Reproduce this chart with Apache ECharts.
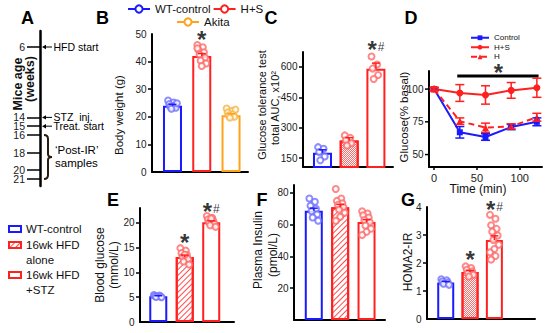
<!DOCTYPE html>
<html>
<head>
  <meta charset="utf-8">
  <title>HFD / STZ mouse model</title>
  <script src="https://cdn.jsdelivr.net/npm/echarts@6.0.0/dist/echarts.min.js"></script>
  <style>
    html, body { margin: 0; padding: 0; background: #fff; }
    #chart { width: 550px; height: 333px; }
  </style>
</head>
<body>
<div id="chart"></div>
<script>
  // ---- data ----
  // A: timeline (weeks of age)
  var weekTicks = [6, 14, 15, 16, 18, 20, 21];
  var eventWeeks = [6, 14, 15];
  var eventNames = ['HFD start', 'STZ  inj.', 'Treat. start'];
  var sampleWeeks = [16, 21];

  // B: body weight (g)
  var bwTicks = [0, 10, 20, 30, 40, 50];
  var bwMean = [24.0, 42.0, 20.6];
  var bwSem = [0.5, 0.9, 0.5];
  var bwPts = [
    [25.9, 25.2, 24.6, 24.1, 23.7, 23.3, 22.9, 24.9],
    [46.0, 45.2, 44.3, 43.4, 42.6, 41.5, 40.4, 39.3, 38.4, 44.8],
    [23.0, 22.2, 21.6, 21.0, 20.5, 20.0, 19.7, 22.6]
  ];
  var bwSig = [[1, 48.0, '*']];

  // C: GTT total AUC (x10^2)
  var aucTicks = [150, 300, 450, 600];
  var aucMean = [176, 237, 591];
  var aucSem = [15, 14, 28];
  var aucPts = [[204, 196, 180, 158, 139], [262, 250, 238, 224, 212], [652, 612, 592, 560, 541]];
  var aucSig = [[2, 684, '*#']];

  // D: glucose (% basal) vs time
  var gluTicks = [50, 75, 100];
  var timeTicks = [0, 50, 100];
  var timeMin = [0, 30, 60, 90, 120];
  var gluCtrl = [100, 67, 63.4, 71, 75];
  var gluCtrlSem = [1, 4.4, 2.5, 2, 3];
  var gluHS = [100, 97, 95.5, 99, 101];
  var gluHSSem = [1.5, 6.4, 7, 6, 7.3];
  var gluH = [100, 75.5, 70.5, 71.5, 78.5];
  var gluHSem = [1, 2.5, 3.5, 2, 3];
  var sigSpan = [27, 122];
  var sigLevel = 110;
  var gluSig = [[75, 112.5, '*']];

  // E: blood glucose (mmol/L)
  var bgTicks = [0, 5, 10, 15, 20];
  var bgMean = [5.2, 13.1, 20.1];
  var bgSem = [0.1, 0.4, 0.3];
  var bgPts = [
    [5.45, 5.35, 5.25, 5.15, 5.05, 5.0],
    [14.9, 14.4, 13.9, 13.5, 13.1, 12.7, 12.2, 11.6, 13.6],
    [21.4, 21.0, 20.7, 20.4, 20.1, 19.8, 19.5, 19.2, 20.9]
  ];
  var bgSig = [[1, 16.0, '*'], [2, 22.2, '*#']];
  var groupNames = ['WT-control ', '16wk HFD\nalone', '16wk HFD\n+STZ'];

  // F: plasma insulin (pmol/L)
  var insTicks = [20, 40, 60, 80];
  var insMean = [68.8, 71.0, 61.7];
  var insSem = [1.6, 1.8, 1.5];
  var insPts = [
    [76.5, 74.5, 72, 70, 68.5, 66.5, 64.5, 62.5],
    [82.5, 76.5, 75, 73.5, 72.5, 71, 69.5, 67.5, 65, 62.5],
    [68.5, 67, 66, 64.5, 63, 61.5, 59.5, 57.5, 55.5, 53.5]
  ];

  // G: HOMA2-IR
  var homaTicks = [0, 1, 2, 3, 4];
  var homaMean = [1.30, 1.68, 2.82];
  var homaSem = [0.04, 0.05, 0.15];
  var homaPts = [
    [1.42, 1.38, 1.34, 1.30, 1.26, 1.22],
    [1.88, 1.82, 1.76, 1.70, 1.64, 1.58, 1.52],
    [3.72, 3.58, 3.35, 3.22, 3.12, 2.98, 2.82, 2.65, 2.50, 2.38, 2.25, 2.12]
  ];
  var homaSig = [[1, 2.12, '*'], [2, 3.9, '*#']];

  // ---- styles ----
  var FONT = '"Liberation Sans", Arial, sans-serif';
  var BLUE = '#1a1aff', RED = '#ff2020', ORANGE = '#ffa31a';
  var BLUE_PT = '#7070ff', RED_PT = '#ff6a6a', ORANGE_PT = '#f5b648';

  function open(c) { return {color: '#fff', borderColor: c, borderWidth: 2}; }
  var hatch = {color: '#fff', borderColor: RED, borderWidth: 2,
    decal: {symbol: 'rect', symbolSize: 1, dashArrayX: [1, 0], dashArrayY: [1, 3], rotation: -Math.PI / 4, color: '#ff4a4a'}};
  var dotted = {color: '#fff', borderColor: RED, borderWidth: 2,
    decal: {symbol: 'rect', symbolSize: 1, dashArrayX: [[1, 1], [0, 1, 1, 0]], dashArrayY: [1, 0], color: '#ff6a6a'}};

  // min/max of the axis get an empty label so the edge-label hiding never touches the real ones
  function valAxis(gi, min, max, ticks, o) {
    o = o || {};
    var tickLen = o.tickLen || 4;
    var labelVals = ticks ? [min].concat(ticks, [max]) : undefined;
    return {
      type: 'value', gridIndex: gi, min: min, max: max, show: o.show !== false,
      inverse: !!o.inverse,
      axisLine: {show: true, onZero: false, lineStyle: {color: '#000', width: o.lineWidth || 2}},
      axisTick: {show: !!ticks, customValues: ticks || undefined, length: tickLen,
        lineStyle: {color: '#000', width: 1.5}},
      axisLabel: {show: !!ticks, customValues: labelVals, fontSize: o.fontSize || 10,
        hideOverlap: false,
        formatter: function (v) { return ticks && ticks.indexOf(v) >= 0 ? String(v) : ''; },
        margin: tickLen + (o.margin == null ? 1.5 : o.margin), color: '#1a1a1a', fontFamily: FONT},
      splitLine: {show: false}
    };
  }

  function jitter(k) { return ((k * 5) % 9 - 4) * 1.1; }

  function errBars(gi, rows, colors, capW, twoSided) {
    return {
      type: 'custom', xAxisIndex: gi, yAxisIndex: gi, silent: true, z: 4, clip: false,
      data: rows,
      renderItem: function (params, api) {
        var x = api.value(0), m = api.value(1), e = api.value(2);
        var hi = api.coord([x, m + e]);
        var lo = api.coord([x, twoSided ? m - e : m]);
        var st = {stroke: colors[params.dataIndex % colors.length], lineWidth: 1.5, fill: null};
        var kids = [
          {type: 'line', shape: {x1: hi[0], y1: hi[1], x2: lo[0], y2: lo[1]}, style: st},
          {type: 'line', shape: {x1: hi[0] - capW / 2, y1: hi[1], x2: hi[0] + capW / 2, y2: hi[1]}, style: st}
        ];
        if (twoSided) {
          kids.push({type: 'line', shape: {x1: lo[0] - capW / 2, y1: lo[1], x2: lo[0] + capW / 2, y2: lo[1]}, style: st});
        }
        return {type: 'group', children: kids};
      }
    };
  }

  function sigMarks(gi, marks) {
    return {
      type: 'scatter', xAxisIndex: gi, yAxisIndex: gi, silent: true, clip: false, z: 6,
      symbol: 'circle', symbolSize: 1, itemStyle: {color: 'rgba(0,0,0,0)'},
      data: marks,
      label: {
        show: true, position: 'inside',
        formatter: function (p) { return p.data[2] === '*#' ? '{s|*}{h|#}' : '{s|*}'; },
        rich: {
          s: {fontSize: 24, fontWeight: 'bold', color: '#000', fontFamily: FONT},
          h: {fontSize: 12, color: '#000', fontFamily: FONT, padding: [0, 0, 6, 1]}
        }
      }
    };
  }

  function barPanel(gi, means, sems, pts, barStyles, ptColors, errColors, barW, names) {
    var out = [];
    means.forEach(function (m, i) {
      out.push({
        type: 'bar', name: names ? names[i] : 'p' + gi + '-' + i,
        xAxisIndex: gi, yAxisIndex: gi, silent: true, z: 2,
        barWidth: barW, barGap: '-100%',
        data: [[i, m]], itemStyle: barStyles[i]
      });
    });
    pts.forEach(function (arr, i) {
      out.push({
        type: 'scatter', xAxisIndex: gi, yAxisIndex: gi, silent: true, z: 3,
        symbol: 'emptyCircle', symbolSize: 6,
        itemStyle: {color: ptColors[i], borderWidth: 1.1},
        data: arr.map(function (v, k) { return {value: [i, v], symbolOffset: [jitter(k), 0]}; })
      });
    });
    out.push(errBars(gi, means.map(function (m, i) { return [i, m, sems[i]]; }), errColors, 8, false));
    return out;
  }

  var series = [];

  // A: events + sample brace
  series.push({
    type: 'custom', xAxisIndex: 0, yAxisIndex: 0, silent: true, clip: false,
    data: eventWeeks.map(function (w, i) { return [0, w, i]; }),
    renderItem: function (params, api) {
      var p = api.coord([0, api.value(1)]);
      var x = p[0], y = p[1];
      return {type: 'group', children: [
        {type: 'line', shape: {x1: x + 4, y1: y, x2: x + 12, y2: y}, style: {stroke: '#000', lineWidth: 1}},
        {type: 'polygon', shape: {points: [[x + 2, y], [x + 6, y - 2.2], [x + 6, y + 2.2]]}, style: {fill: '#000'}},
        {type: 'text', x: x + 13.5, y: y, style: {text: eventNames[api.value(2)], fill: '#000', fontSize: 10.5,
          lineHeight: 9, fontFamily: FONT, verticalAlign: 'middle', align: 'left'}}
      ]};
    }
  });
  series.push({
    type: 'custom', xAxisIndex: 0, yAxisIndex: 0, silent: true, clip: false,
    data: [[0, sampleWeeks[0], sampleWeeks[1]]],
    renderItem: function (params, api) {
      var a = api.coord([0, api.value(1)]), b = api.coord([0, api.value(2)]);
      var x0 = a[0] + 4, y1 = a[1], y2 = b[1], ym = (y1 + y2) / 2, w = 8, xm = x0 + w / 2;
      var d = 'M' + x0 + ',' + y1 + ' Q' + xm + ',' + y1 + ' ' + xm + ',' + (y1 + 4) +
        ' L' + xm + ',' + (ym - 3) + ' Q' + xm + ',' + ym + ' ' + (x0 + w) + ',' + ym +
        ' Q' + xm + ',' + ym + ' ' + xm + ',' + (ym + 3) + ' L' + xm + ',' + (y2 - 4) +
        ' Q' + xm + ',' + y2 + ' ' + x0 + ',' + y2;
      return {type: 'group', children: [
        {type: 'path', shape: {pathData: d}, style: {stroke: '#2a1c0c', lineWidth: 2, fill: null}},
        {type: 'text', x: x0 + w + 3, y: ym, style: {text: '\u2018Post-IR\u2019\nsamples', fill: '#000',
          fontSize: 11.5, lineHeight: 13, fontFamily: FONT, verticalAlign: 'middle', align: 'left'}}
      ]};
    }
  });

  // B: legend carriers + bars
  [['WT-control', BLUE], ['H+S', RED], ['Akita', ORANGE]].forEach(function (s) {
    series.push({type: 'line', name: s[0], xAxisIndex: 1, yAxisIndex: 1, data: [],
      symbol: 'emptyCircle', symbolSize: 8, itemStyle: {color: s[1], borderWidth: 1.5},
      lineStyle: {color: s[1], width: 3}});
  });
  series = series.concat(barPanel(1, bwMean, bwSem, bwPts, [open(BLUE), open(RED), open(ORANGE)],
    [BLUE_PT, RED_PT, ORANGE_PT], [BLUE, RED, ORANGE], 19));
  series.push(sigMarks(1, bwSig));

  // C
  series = series.concat(barPanel(2, aucMean, aucSem, aucPts, [open(BLUE), dotted, open(RED)],
    [BLUE_PT, RED_PT, RED_PT], [BLUE, RED, RED], 19));
  series.push(sigMarks(2, aucSig));

  // D
  var D_XMIN = -6, D_XMAX = 126, D_YMIN = 40.5, D_YMAX = 113.8;
  function tc(xs, ys) { return xs.map(function (t, i) { return [t, ys[i]]; }); }
  series.push({type: 'line', name: 'Control', xAxisIndex: 3, yAxisIndex: 3, data: tc(timeMin, gluCtrl),
    symbol: 'rect', symbolSize: 6, itemStyle: {color: BLUE}, lineStyle: {color: BLUE, width: 2}, z: 3});
  series.push({type: 'line', name: 'H+S ', xAxisIndex: 3, yAxisIndex: 3, data: tc(timeMin, gluHS),
    symbol: 'circle', symbolSize: 7, itemStyle: {color: RED}, lineStyle: {color: RED, width: 2}, z: 3});
  series.push({type: 'line', name: 'H', xAxisIndex: 3, yAxisIndex: 3, data: tc(timeMin, gluH),
    symbol: 'triangle', symbolSize: 7, itemStyle: {color: RED}, lineStyle: {color: RED, width: 2, type: [6, 4]}, z: 3});
  series.push(errBars(3, timeMin.map(function (t, i) { return [t, gluCtrl[i], gluCtrlSem[i]]; }), [BLUE], 9, true));
  series.push(errBars(3, timeMin.map(function (t, i) { return [t, gluHS[i], gluHSSem[i]]; }), [RED], 9, true));
  series.push(errBars(3, timeMin.map(function (t, i) { return [t, gluH[i], gluHSem[i]]; }), [RED], 9, true));
  series.push({type: 'line', xAxisIndex: 3, yAxisIndex: 3, silent: true, symbol: 'none', clip: false,
    data: [[sigSpan[0], sigLevel], [sigSpan[1], sigLevel]], lineStyle: {color: '#000', width: 3}});
  series.push(sigMarks(3, gluSig));
  // y tick marks + labels of D, placed through the D scale
  series.push({
    type: 'custom', xAxisIndex: 3, yAxisIndex: 3, silent: true, clip: false, z: 100,
    data: gluTicks.map(function (v) { return [D_XMIN, v]; }),
    renderItem: function (params, api) {
      var p = api.coord([api.value(0), api.value(1)]);
      return {type: 'group', children: [
        {type: 'line', shape: {x1: p[0] - 4, y1: p[1], x2: p[0], y2: p[1]}, style: {stroke: '#000', lineWidth: 1.5}},
        {type: 'text', x: p[0] - 5.5, y: p[1], style: {text: String(api.value(1)), fill: '#1a1a1a',
          fontSize: 10, fontFamily: FONT, align: 'right', verticalAlign: 'middle'}}
      ]};
    }
  });

  // E
  series = series.concat(barPanel(4, bgMean, bgSem, bgPts, [open(BLUE), hatch, open(RED)],
    [BLUE_PT, RED_PT, RED_PT], [BLUE, RED, RED], 18, groupNames));
  series.push(sigMarks(4, bgSig));

  // F
  series = series.concat(barPanel(5, insMean, insSem, insPts, [open(BLUE), hatch, open(RED)],
    [BLUE_PT, RED_PT, RED_PT], [BLUE, RED, RED], 18));

  // G
  series = series.concat(barPanel(6, homaMean, homaSem, homaPts, [open(BLUE), dotted, open(RED)],
    [BLUE_PT, RED_PT, RED_PT], [BLUE, RED, RED], 17));
  series.push(sigMarks(6, homaSig));

  function grid(l, t, w, h) {
    return {left: l, top: t, width: w, height: h, containLabel: false, outerBoundsMode: 'none'};
  }

  function vtext(x, y, text, size, bold) {
    return {type: 'text', x: x, y: y, rotation: Math.PI / 2, silent: true,
      style: {text: text, fill: '#111', fontSize: size, fontWeight: bold ? 'bold' : 'normal',
        fontFamily: FONT, align: 'center', verticalAlign: 'middle'}};
  }
  function letter(t, x, y) {
    return {type: 'text', x: x, y: y, silent: true,
      style: {text: t, fill: '#000', fontSize: 18, fontWeight: 'bold', fontFamily: FONT,
        align: 'center', verticalAlign: 'middle'}};
  }

  var legendText = {fontSize: 11.5, fontFamily: FONT, color: '#111'};
  var groupLegend = function (name, top) {
    return {data: [name], left: 8, top: top, orient: 'vertical', padding: 0, selectedMode: false,
      icon: 'rect', itemWidth: 12, itemHeight: 6,
      formatter: function (n) { return n.indexOf('\n') >= 0 ? ' \n' + n : n; },
      textStyle: {fontSize: 11.5, lineHeight: 15, fontFamily: FONT, color: '#111'}};
  };

  var option = {
    animation: false,
    backgroundColor: '#fff',
    grid: [
      grid(40, 31, 80, 155),
      grid(152, 34, 96, 138),
      grid(303, 52, 90, 115),
      grid(429, 71, 113, 96),
      grid(140, 208, 94, 114),
      grid(294, 185, 91, 135),
      grid(427, 207, 108, 112)
    ],
    xAxis: [
      valAxis(0, 0, 10, null, {show: false}),
      valAxis(1, -0.70, 2.58, null),
      valAxis(2, -0.73, 2.64, null),
      valAxis(3, D_XMIN, D_XMAX, timeTicks, {fontSize: 11, tickLen: 3, margin: 2}),
      valAxis(4, -0.69, 2.86, null),
      valAxis(5, -0.75, 2.70, null),
      valAxis(6, -0.77, 3.67, null)
    ],
    yAxis: [
      valAxis(0, 4.18, 21.8, weekTicks, {inverse: true, tickLen: 13, fontSize: 10.5, margin: 2, lineWidth: 2.5}),
      valAxis(1, 0, 50, bwTicks),
      valAxis(2, 106, 674, aucTicks),
      valAxis(3, D_YMIN, D_YMAX, null),
      valAxis(4, 0, 23, bgTicks),
      valAxis(5, 0, 85, insTicks),
      valAxis(6, 0, 4, homaTicks)
    ],
    legend: [
      {data: ['WT-control', 'H+S'], left: 127, top: 3, itemWidth: 22, itemHeight: 9, itemGap: 2,
        padding: 0, selectedMode: false, textStyle: legendText},
      {data: ['Akita'], left: 176, top: 16, itemWidth: 22, itemHeight: 9,
        padding: 0, selectedMode: false, textStyle: legendText},
      {data: ['Control', 'H+S ', 'H'], orient: 'vertical', left: 470, top: 33, itemWidth: 18, itemHeight: 6,
        itemGap: 0, padding: 0, selectedMode: false,
        textStyle: {fontSize: 8, lineHeight: 9.5, fontFamily: FONT, color: '#111'}},
      groupLegend(groupNames[0], 221.5),
      groupLegend(groupNames[1], 222.5),
      groupLegend(groupNames[2], 252.5)
    ],
    graphic: [
      letter('A', 27.5, 18), letter('B', 102.5, 18), letter('C', 271, 18), letter('D', 411, 18),
      letter('E', 113, 200), letter('F', 262, 200), letter('G', 408, 200),
      vtext(18, 84, 'Mice age', 12.5, true), vtext(30, 79, '(weeks)', 12.5, true),
      vtext(119, 115, 'Body weight (g)', 11.5),
      vtext(262, 105, 'Glucose tolerance test', 11), vtext(275, 108, 'total AUC, x10\u00b2', 11),
      vtext(404, 117, 'Glucose(% basal)', 11.5),
      {type: 'text', x: 478, y: 189, silent: true,
        style: {text: 'Time (min)', fill: '#111', fontSize: 12, fontFamily: FONT, align: 'center', verticalAlign: 'middle'}},
      vtext(100, 265, 'Blood glucose', 12), vtext(114, 265, '(mmol/L)', 12),
      vtext(258, 250, 'Plasma Insulin', 12), vtext(273, 255, '(pmol/L)', 12),
      vtext(408, 262, 'HOMA2-IR', 12)
    ],
    series: series
  };

  var chart = echarts.init(document.getElementById('chart'), null, {renderer: 'svg'});
  chart.setOption(option);
</script>
</body>
</html>
